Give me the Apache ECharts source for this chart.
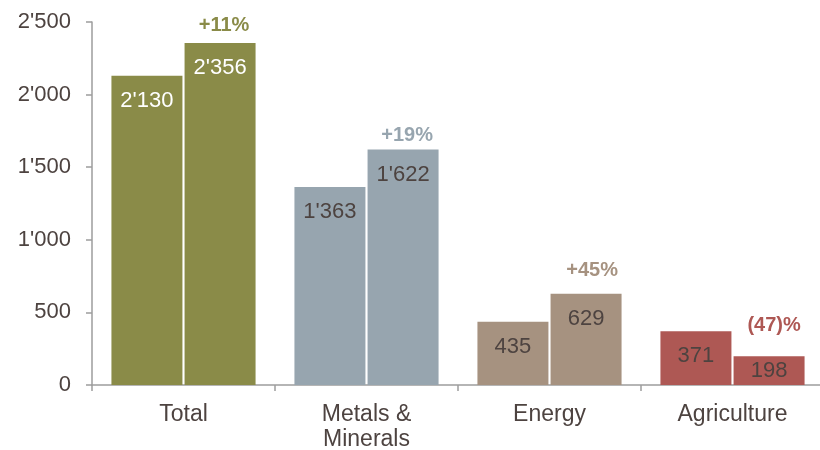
<!DOCTYPE html>
<html>
<head>
<meta charset="utf-8">
<script src="https://cdn.jsdelivr.net/npm/echarts@6/dist/echarts.min.js"></script>
<style>
  html, body { margin: 0; padding: 0; background: #fff; }
  #chart { width: 820px; height: 450px; }
</style>
</head>
<body>
<div id="chart"></div>
<script>
var categories = ['Total', 'Metals &\nMinerals', 'Energy', 'Agriculture'];
var before = [2130, 1363, 435, 371];
var after = [2356, 1622, 629, 198];
var changeLabels = ['+11%', '+19%', '+45%', '(47)%'];

// styles
var barColors = ['#8A8B48', '#97A5AF', '#A69280', '#AE5854'];
var valueColors = ['#ffffff', '#4D4340', '#4D4340', '#4D4340'];
var pctOffsets = [[4, -17], [4, -14], [6, -23], [5, -31]];
var textColor = '#4D4340';
var font = "'Liberation Sans', Arial, sans-serif";

function fmt(n) {
    return String(n).replace(/\B(?=(\d{3})+(?!\d))/g, "'");
}

function barData(vals) {
    var res = [];
    for (var i = 0; i < vals.length; i++) {
        res.push({
            value: vals[i],
            itemStyle: { color: barColors[i] },
            label: {
                color: valueColors[i],
                position: vals[i] < 250 ? 'inside' : 'insideTop'
            }
        });
    }
    return res;
}

var pctPoints = [];
for (var i = 0; i < categories.length; i++) {
    pctPoints.push({
        coord: [i, after[i]],
        value: changeLabels[i],
        label: { color: barColors[i], offset: pctOffsets[i] }
    });
}

var valueLabel = {
    show: true,
    position: 'insideTop',
    distance: 14,
    fontSize: 22,
    fontFamily: font,
    formatter: function (p) { return fmt(p.value); }
};

var chart = echarts.init(document.getElementById('chart'));
chart.setOption({
    animation: false,
    backgroundColor: '#ffffff',
    grid: { left: 92, top: 22, width: 732, height: 363, outerBoundsMode: 'none', containLabel: false },
    xAxis: {
        type: 'category',
        data: categories,
        axisLine: { lineStyle: { color: '#9d9d9d', width: 1.5 } },
        axisTick: { show: true, length: 6, lineStyle: { color: '#9d9d9d', width: 1.5 } },
        axisLabel: {
            color: textColor,
            fontSize: 23,
            fontFamily: font,
            margin: 17,
            lineHeight: 25
        }
    },
    yAxis: {
        type: 'value',
        min: 0,
        max: 2500,
        interval: 500,
        splitLine: { show: false },
        axisLine: { show: true, lineStyle: { color: '#9d9d9d', width: 1.5 } },
        axisTick: { show: true, length: 6, lineStyle: { color: '#9d9d9d', width: 1.5 } },
        axisLabel: {
            color: textColor,
            fontSize: 22,
            fontFamily: font,
            margin: 21,
            formatter: function (v) { return fmt(v); }
        }
    },
    series: [
        {
            type: 'bar',
            barWidth: 71,
            barGap: '3%',
            data: barData(before),
            label: valueLabel
        },
        {
            type: 'bar',
            barWidth: 71,
            data: barData(after),
            label: valueLabel,
            markPoint: {
                symbol: 'circle',
                symbolSize: 0,
                label: {
                    show: true,
                    position: 'inside',
                    fontSize: 20,
                    fontWeight: 'bold',
                    fontFamily: font,
                    formatter: function (p) { return p.value; }
                },
                data: pctPoints
            }
        }
    ]
});
</script>
</body>
</html>
